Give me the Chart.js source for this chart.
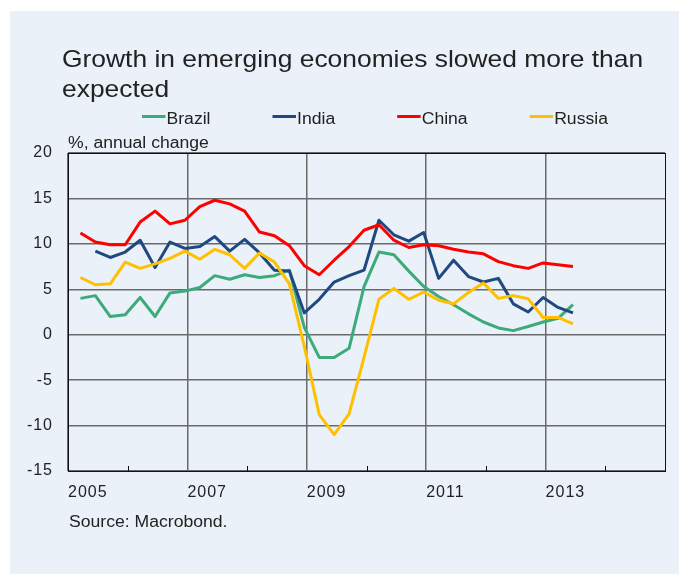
<!DOCTYPE html>
<html><head><meta charset="utf-8">
<script src="https://cdn.jsdelivr.net/npm/chart.js@4.4.0/dist/chart.umd.min.js"></script>
<style>html,body{margin:0;padding:0;background:#fff;}#wrap{width:679px;height:574px;position:relative;}</style>
</head><body><div id="wrap"><canvas id="c" width="679" height="574"></canvas></div>
<script>
const titleLines = ["Growth in emerging economies slowed more than", "expected"];
const axisTitle = "%, annual change";
const sourceText = "Source: Macrobond.";
const seriesNames = ["Brazil", "India", "China", "Russia"];
const quarters = ["2005Q1","2005Q2","2005Q3","2005Q4","2006Q1","2006Q2","2006Q3","2006Q4",
  "2007Q1","2007Q2","2007Q3","2007Q4","2008Q1","2008Q2","2008Q3","2008Q4",
  "2009Q1","2009Q2","2009Q3","2009Q4","2010Q1","2010Q2","2010Q3","2010Q4",
  "2011Q1","2011Q2","2011Q3","2011Q4","2012Q1","2012Q2","2012Q3","2012Q4",
  "2013Q1","2013Q2"];
const brazil = [4.0,4.3,2.0,2.2,4.1,2.0,4.6,4.8,5.2,6.5,6.1,6.6,6.3,6.5,7.1,0.8,-2.5,-2.5,-1.5,5.3,9.1,8.8,7.0,5.3,4.2,3.3,2.3,1.4,0.75,0.45,0.9,1.4,1.8,3.3];
const india = [null,9.2,8.5,9.1,10.4,7.4,10.2,9.5,9.7,10.8,9.2,10.5,9.0,7.1,7.0,2.4,3.9,5.8,6.5,7.1,12.6,11.0,10.3,11.25,6.2,8.2,6.4,5.8,6.2,3.4,2.5,4.1,3.0,2.4];
const china = [11.2,10.2,9.9,9.9,12.4,13.6,12.2,12.6,14.1,14.8,14.4,13.6,11.3,10.9,9.8,7.6,6.6,8.2,9.7,11.5,12.1,10.4,9.6,9.9,9.8,9.4,9.1,8.9,8.05,7.6,7.3,7.9,7.7,7.5];
const russia = [6.3,5.5,5.6,8.0,7.3,7.8,8.4,9.2,8.3,9.4,8.8,7.3,9.0,8.0,5.6,-1.3,-8.8,-11.0,-8.7,-2.5,3.9,5.1,3.9,4.7,3.8,3.4,4.65,5.7,4.0,4.3,3.95,1.9,1.9,1.2];
const yTicks = [-15,-10,-5,0,5,10,15,20];
const xYearLabels = [2005,2007,2009,2011,2013];

const colors = ["#3DAA7B", "#1F497F", "#FF0000", "#FFC000"];
const FONT = "'Liberation Sans', Arial, sans-serif";
const TEXT = "#222222";
const PANEL = "#EAF1F8";
const STRETCH = 1.1;   // the reference text is slightly wide

// position a quarter in the middle of its last month
function qx(q){ const y = +q.slice(0,4), n = +q.slice(5); return y + (3*n - 0.5)/12; }
function pts(arr){ return quarters.map((q,i)=>({x:qx(q), y:arr[i]})); }

const all = [brazil, india, china, russia];
const datasets = all.map((arr,i)=>({
  label: seriesNames[i], data: pts(arr), borderColor: colors[i], backgroundColor: colors[i],
  borderWidth: 3, pointRadius: 0, tension: 0, fill: false, order: 4 - i,
  borderJoinStyle: 'round', borderCapStyle: 'butt'
}));

function wideText(c, t, x, y, size){
  c.save();
  c.font = size + "px " + FONT;
  c.translate(x, y); c.scale(STRETCH, 1);
  c.fillText(t, 0, 0);
  const w = c.measureText(t).width * STRETCH;
  c.restore();
  return w;
}

const deco = {
  id: 'deco',
  beforeDraw(chart){
    const c = chart.ctx;
    c.save();
    c.fillStyle = '#fff'; c.fillRect(0,0,chart.width,chart.height);
    c.fillStyle = PANEL; c.fillRect(10,11,chart.width-10,chart.height-11);
    c.restore();
    if ('letterSpacing' in c) c.letterSpacing = '1px';
  },
  beforeDatasetsDraw(chart){
    const c = chart.ctx, a = chart.chartArea, xs = chart.scales.x;
    c.save();
    c.strokeStyle = '#111'; c.lineWidth = 1;
    for (let yr = 2006; yr < 2015; yr += 2){
      const px = Math.round(xs.getPixelForValue(yr)) + 0.5;
      c.beginPath(); c.moveTo(px, a.bottom); c.lineTo(px, a.bottom - 5); c.stroke();
    }
    c.strokeRect(Math.round(a.left)+0.5, Math.round(a.top)+0.5, Math.round(a.right-a.left), Math.round(a.bottom-a.top));
    c.restore();
  },
  afterDraw(chart){
    const c = chart.ctx;
    if ('letterSpacing' in c) c.letterSpacing = '0px';
    c.save();
    c.fillStyle = TEXT; c.textBaseline = 'alphabetic'; c.textAlign = 'left';
    wideText(c, titleLines[0], 62, 67, 24);
    wideText(c, titleLines[1], 62, 97, 24);
    let x = 142;
    chart.data.datasets.forEach(ds=>{
      c.strokeStyle = ds.borderColor; c.lineWidth = 3;
      c.beginPath(); c.moveTo(x, 116.5); c.lineTo(x+23.5, 116.5); c.stroke();
      c.fillStyle = TEXT;
      const w = wideText(c, ds.label, x+24.5, 123.5, 16);
      x += 24.5 + w + 62;
    });
    wideText(c, axisTitle, 68, 147.5, 16);
    wideText(c, sourceText, 69, 527, 16);
    c.restore();
  }
};

new Chart(document.getElementById('c'), {
  type: 'line',
  data: { datasets },
  options: {
    responsive: false, animation: false, devicePixelRatio: 1,
    layout: { padding: { top: 153, right: 14, left: 0, bottom: 0 } },
    plugins: { legend: { display: false }, title: { display: false }, tooltip: { enabled: false } },
    scales: {
      x: {
        type: 'linear', min: 2005, max: 2015,
        afterFit(s){ s.height = 103; },
        afterBuildTicks(s){ s.ticks = [2005,2006,2007,2008,2009,2010,2011,2012,2013,2014,2015].map(v=>({value:v})); },
        ticks: { autoSkip: false, maxRotation: 0, align: 'start', padding: 12,
          color: TEXT, font: { family: FONT, size: 16 },
          callback: v => xYearLabels.includes(v) ? String(v) : '' },
        grid: { drawTicks: false, lineWidth: 1.5,
          color: ctx => (ctx.tick && xYearLabels.includes(ctx.tick.value)) ? '#6a6a6a' : 'rgba(0,0,0,0)' },
        border: { display: false }
      },
      y: {
        min: -15, max: 20,
        afterFit(s){ s.width = 68; },
        afterBuildTicks(s){ s.ticks = yTicks.map(v=>({value:v})); },
        ticks: { padding: 15, color: TEXT, font: { family: FONT, size: 16 } },
        grid: { drawTicks: false, lineWidth: 1.5, color: '#6a6a6a' },
        border: { display: false }
      }
    }
  },
  plugins: [deco]
});
</script></body></html>
